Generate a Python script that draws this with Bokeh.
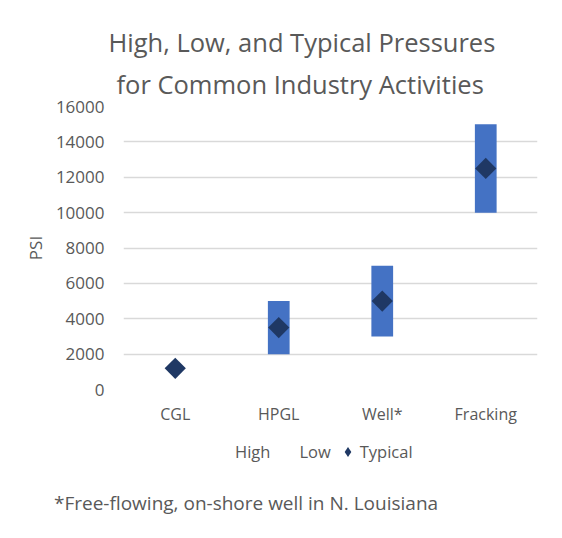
import numpy as np
from bokeh.plotting import figure
from bokeh.layouts import column
from bokeh.models import ColumnDataSource, Div, FactorRange, FixedTicker, Legend, LegendItem, Range1d, Title
from bokeh.embed import file_html
from bokeh.resources import INLINE

# Data
activities = ['CGL', 'HPGL', 'Well*', 'Fracking']
high = [1200, 5000, 7000, 15000]
low = [1200, 2000, 3000, 10000]
typical = [1200, 3500, 5000, 12500]
psi_ticks = [0, 2000, 4000, 6000, 8000, 10000, 12000, 14000, 16000]

title_lines = ['High, Low, and Typical Pressures', 'for Common Industry Activities']
footnote = '*Free-flowing, on-shore well in N. Louisiana'

FONT = 'Open Sans'
TXT = '#595959'
GRID = '#D9D9D9'
NAVY = '#1F3864'

src = ColumnDataSource(data=dict(act=activities, high=high, low=low, typ=typical))

## chart ######################################################
p = figure(x_range=FactorRange(factors=activities), y_range=(0, 16000),
           width=562, height=429, output_backend="svg", toolbar_location=None,
           min_border_left=123, min_border_right=25, min_border_top=106, min_border_bottom=40)
p.outline_line_color = None

p.vbar(x='act', top='high', bottom='low', width=0.21, source=src,
       fill_color='#4472C4', line_color=None)
p.scatter(x='act', y='typ', source=src, marker='square', angle=np.pi / 4,
          size=15, fill_color=NAVY, line_color=None)

p.yaxis.ticker = FixedTicker(ticks=psi_ticks)
p.yaxis.axis_label = 'PSI'
p.yaxis.axis_label_text_font = FONT
p.yaxis.axis_label_text_font_style = 'normal'
p.yaxis.axis_label_text_font_size = '17px'
p.yaxis.axis_label_text_color = TXT
p.yaxis.axis_label_standoff = 6
p.yaxis.major_label_standoff = 13

for ax in (p.xaxis, p.yaxis):
    ax.axis_line_color = None
    ax.major_tick_line_color = None
    ax.minor_tick_line_color = None
    ax.major_label_text_font = FONT
    ax.major_label_text_color = TXT
p.yaxis.major_label_text_font_size = '17px'
p.xaxis.major_label_text_font_size = '16px'
p.xaxis.major_label_standoff = 7

p.xgrid.grid_line_color = None
p.ygrid.grid_line_color = GRID
p.ygrid.grid_line_width = 1.3

# title: p.title is the outer line, the added one sits next to the plot
p.title.text = title_lines[0]
p.title.align = 'left'
p.title.offset = -15
p.title.standoff = 0
p.title.text_font = FONT
p.title.text_font_size = '25.5px'
p.title.text_font_style = 'normal'
p.title.text_color = TXT
p.add_layout(Title(text=title_lines[1], align='left', offset=-7, standoff=12,
                   text_font=FONT, text_font_size='25.5px',
                   text_font_style='normal', text_color=TXT), 'above')

## legend ######################################################
# the series sit out of view here, only their legend glyphs show
leg = figure(width=562, height=50, title=None, output_backend="svg", toolbar_location=None,
             x_axis_location=None, y_axis_location=None, min_border=0,
             x_range=FactorRange(factors=activities), y_range=Range1d(0, 1))
leg.outline_line_color = None
leg.grid.visible = False
r_high = leg.scatter(x='act', y='high', source=src, size=1, fill_alpha=0, line_alpha=0)
r_low = leg.scatter(x='act', y='low', source=src, size=1, fill_alpha=0, line_alpha=0)
r_typ = leg.scatter(x='act', y='typ', source=src, marker='diamond', size=20,
                    fill_color=NAVY, line_color=None)

legend = Legend(items=[LegendItem(label='High', renderers=[r_high]),
                       LegendItem(label='Low', renderers=[r_low]),
                       LegendItem(label='Typical', renderers=[r_typ])],
                orientation='horizontal', location=(87, 15),
                glyph_width=25, glyph_height=25, label_standoff=0, spacing=4,
                padding=0, margin=0, border_line_color=None, background_fill_alpha=0,
                label_text_font=FONT, label_text_font_size='16.5px', label_text_color=TXT)
leg.add_layout(legend, 'center')

## footnote ######################################################
note = Div(text=footnote, width=562, height=59,
           styles={"font-family": FONT, "font-size": "19px", "color": TXT,
                   "line-height": "20px", "padding-left": "49px", "padding-top": "9px",
                   "box-sizing": "border-box", "white-space": "nowrap"})

page = column(p, leg, note, spacing=0)

open("out.html", "w").write(file_html(page, INLINE))
